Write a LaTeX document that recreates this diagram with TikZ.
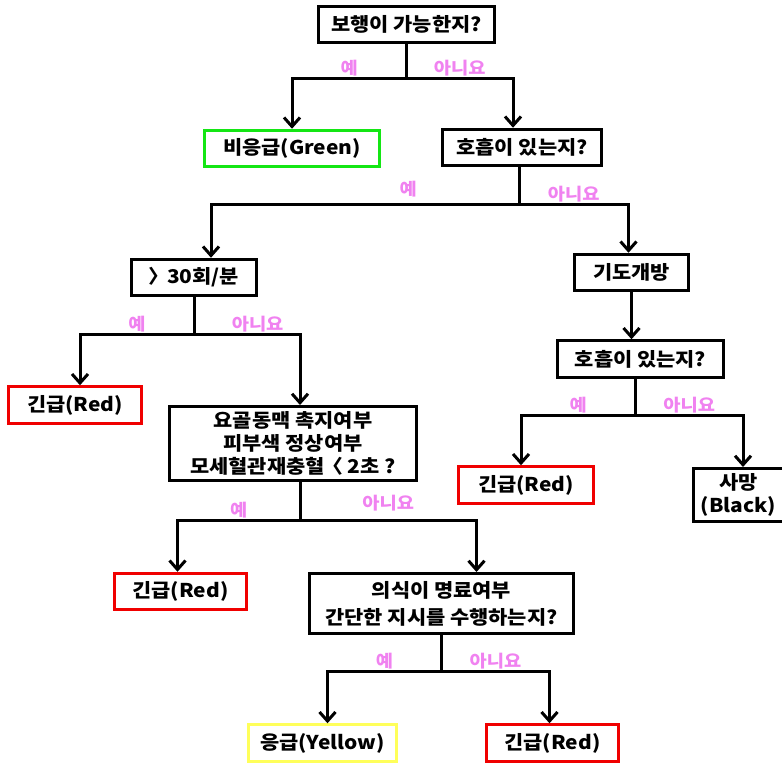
\documentclass[tikz,border=0pt]{standalone}
\usepackage{fontspec}
\newfontfamily\krfont{Noto Sans CJK KR}[FakeStretch=1.1]
\newcommand\halfw[1]{{\addfontfeature{RawFeature=+halt}#1}}
\usetikzlibrary{arrows.meta}
\definecolor{lblpink}{RGB}{240,130,240}
\definecolor{triagered}{RGB}{240,0,0}
\definecolor{triagegreen}{RGB}{20,230,20}
\definecolor{triageyellow}{RGB}{255,255,90}

\begin{document}
\begin{tikzpicture}[x=1pt,y=-1pt,->,>={Straight Barb[length=9pt,width=16pt]},
                    line width=3pt,font={\krfont\bfseries\fontsize{19}{23}\selectfont}]
  \tikzstyle{box}=[draw=black,rectangle,minimum height=36.5pt,inner sep=2pt,align=center]
  \tikzstyle{lbl}=[above,pos=0.25,text=lblpink,inner sep=1pt,
                   font={\krfont\bfseries\fontsize{17}{17}\selectfont}]
  \useasboundingbox (0,0) rectangle (782,763);

  \node[box,minimum width=176pt]                        (walk)    at (406.5,24.5) {보행이 가능한지?};
  \node[box,minimum width=175pt,draw=triagegreen]       (green)   at (292,148.5)  {비응급(Green)};
  \node[box,minimum width=159pt]                        (breath)  at (522,147.5)  {호흡이 있는지?};
  \node[box,minimum width=125pt]                        (rate)    at (194,277.5)  {\halfw{〉}\hspace{0.15em} 30회/분};
  \node[box,minimum width=114pt]                        (airway)  at (631.5,272.5) {기도개방};
  \node[box,minimum width=166pt]                        (breath2) at (640.5,359)  {호흡이 있는지?};
  \node[box,minimum width=133pt,draw=triagered]         (redL)    at (75,405)     {긴급(Red)};
  \node[box,minimum width=247pt,minimum height=74pt]    (check)   at (293,443.5)
        {요골동맥 촉지여부\\피부색 정상여부\\모세혈관재충혈\hspace{0.15em} \halfw{〈} 2초 ?};
  \node[box,minimum width=135pt,draw=triagered]         (redR)    at (526,485)    {긴급(Red)};
  \node[box,minimum width=90pt,minimum height=53pt]     (dead)    at (738.5,495)  {사망\\(Black)};
  \node[box,minimum width=132pt,draw=triagered]         (redM)    at (180.5,591.5) {긴급(Red)};
  \node[box,minimum width=264pt,minimum height=60pt]    (mind)    at (441.5,603.5)
        {의식이 명료여부\\[4pt]간단한 지시를 수행하는지?};
  \node[box,minimum width=148pt,draw=triageyellow]      (yellow)  at (322.5,743)  {응급(Yellow)};
  \node[box,minimum width=132pt,draw=triagered]         (redB)    at (552.5,743)  {긴급(Red)};

  \draw (walk.south) -- ++(0,34.5) -| node[lbl] (walkyes) {예} (green.north);
  \draw (walk.south) -- ++(0,34.5) -| node[lbl] (walkno) {아니요} ([xshift=-9]breath.north);

  \draw ([xshift=-3]breath.south) -- ++(0,37.5) -| node[lbl,pos=0.18,yshift=5pt] (breathyes) {예} ([xshift=17]rate.north);
  \draw ([xshift=-3]breath.south) -- ++(0,37.5) -| node[lbl] (breathno) {아니요} ([xshift=-3]airway.north);

  \draw (rate.south) -- ++(0,37.5) -| node[lbl] (rateyes) {예} ([xshift=5]redL.north);
  \draw (rate.south) -- ++(0,37.5) -| node[lbl,pos=0.3] (rateno) {아니요} ([xshift=7]check.north);

  \draw (airway.south) -- (airway.south |- breath2.north);

  \draw ([xshift=-5]breath2.south) -- ++(0,36.5) -| node[lbl] (breath2yes) {예} ([xshift=-5]redR.north);
  \draw ([xshift=-5]breath2.south) -- ++(0,36.5) -| node[lbl] (breath2no) {아니요} ([xshift=4.5]dead.north);

  \draw ([xshift=7]check.south) -- ++(0,38.5) -| node[lbl] (checkyes) {예} ([xshift=-3]redM.north);
  \draw ([xshift=7]check.south) -- ++(0,38.5) -| node[lbl,yshift=7pt] (checkno) {아니요} ([xshift=35]mind.north);

  \draw (mind.south) -- ++(0,36.5) -| node[lbl] (mindyes) {예} ([xshift=5]yellow.north);
  \draw (mind.south) -- ++(0,36.5) -| node[lbl] (mindno) {아니요} ([xshift=-3]redB.north);
\end{tikzpicture}
\end{document}
